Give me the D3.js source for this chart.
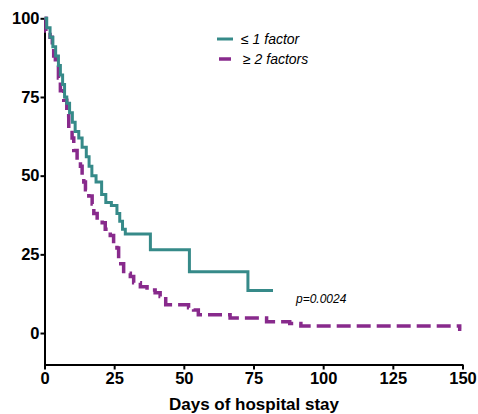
<!DOCTYPE html>
<html>
<head>
<meta charset="utf-8">
<script src="https://cdn.jsdelivr.net/npm/d3@7"></script>
<style>
  body { margin: 0; background: #fff; }
  svg { display: block; font-family: "Liberation Sans", Arial, sans-serif; }
  .axis path, .axis line { stroke: #000; stroke-width: 2; }
  .axis text { font-size: 16.5px; font-weight: bold; fill: #000; }
</style>
</head>
<body>
<svg id="chart" width="478" height="414"></svg>
<script>
// Kaplan-Meier steps (day, % still in hospital)
let lowDays = [0, 0.8, 2, 3, 4, 5, 5.7, 6.5, 7.2, 8, 9, 10, 11, 12.3, 13.5, 15, 16, 17, 18.5, 20.5, 22, 24, 26, 27, 28, 29, 38, 52, 73, 82]
let lowPct  = [100, 97, 94, 91, 88, 85, 82, 79, 75, 73, 70, 67, 64, 62, 59, 56, 53, 50, 48, 44, 41.5, 40.5, 38, 35.5, 33, 31.5, 26.5, 19.5, 13.5, 13.5]

let highDays = [0, 0.5, 2, 2.8, 3.3, 3.9, 5, 5.7, 6.9, 8, 8.7, 9.9, 10.5, 11.7, 12.9, 13.5, 14.1, 14.7, 15.9, 17.1, 17.7, 18.9, 20.7, 21.8, 23.6, 24.8, 26, 26.6, 28.4, 30.8, 32, 34.4, 36.8, 39.7, 41.5, 43.5, 51.7, 53.5, 55.2, 66.6, 79.7, 88, 92, 149, 149.6]
let highPct  = [100, 96, 94, 91, 88, 85, 81, 77, 74, 69, 65, 62, 58, 55, 53, 50, 48, 45.5, 43.5, 41, 38, 36, 35, 33, 31, 28.5, 27, 22, 19, 18, 16, 14.7, 13.7, 12.8, 11.6, 9, 8, 7.3, 5.8, 4.8, 3.6, 3, 2.2, 1.2, 1.2]

let seriesNames = ['≤ 1 factor', '≥ 2 factors']
let xTicks = [0, 25, 50, 75, 100, 125, 150]
let yTicks = [0, 25, 50, 75, 100]
let pText = 'p=0.0024'

const teal = '#368a89'
const purple = '#882a8c'

var svg = d3.select('#chart')

var x = d3.scaleLinear().domain([0, 150]).range([44.5, 462.5])
var y = d3.scaleLinear().domain([-10, 100]).range([364.5, 18.3])

svg.append('g')
  .attr('class', 'axis')
  .attr('transform', 'translate(44.5,0)')
  .call(d3.axisLeft(y).tickValues(yTicks).tickSize(4).tickSizeOuter(0).tickPadding(1))

svg.append('g')
  .attr('class', 'axis')
  .attr('transform', 'translate(0,364.5)')
  .call(d3.axisBottom(x).tickValues(xTicks).tickSize(5).tickSizeOuter(0).tickPadding(3))

svg.append('text')
  .attr('x', 254)
  .attr('y', 410)
  .attr('text-anchor', 'middle')
  .style('font-size', '17px')
  .style('font-weight', 'bold')
  .text('Days of hospital stay')

let stepLine = d3.line()
  .x(d => x(d[0]))
  .y(d => y(d[1]))
  .curve(d3.curveStepAfter)

svg.append('path')
  .datum(highDays.map((d, i) => [d, highPct[i]]))
  .attr('d', stepLine)
  .attr('fill', 'none')
  .attr('stroke', purple)
  .attr('stroke-width', 3.5)
  .attr('stroke-dasharray', '14,6')

svg.append('path')
  .datum(lowDays.map((d, i) => [d, lowPct[i]]))
  .attr('d', stepLine)
  .attr('fill', 'none')
  .attr('stroke', teal)
  .attr('stroke-width', 3)

// legend
let legend = svg.append('g')
legend.append('line')
  .attr('x1', 217).attr('x2', 233).attr('y1', 39).attr('y2', 39)
  .attr('stroke', teal).attr('stroke-width', 3)
legend.append('line')
  .attr('x1', 219).attr('x2', 231).attr('y1', 59).attr('y2', 59)
  .attr('stroke', purple).attr('stroke-width', 3.5)
legend.append('text')
  .attr('x', 241).attr('y', 44)
  .style('font-size', '14px').style('font-style', 'italic')
  .text(seriesNames[0])
legend.append('text')
  .attr('x', 243).attr('y', 64)
  .style('font-size', '14px').style('font-style', 'italic')
  .text(seriesNames[1])

svg.append('text')
  .attr('x', 296).attr('y', 303)
  .style('font-size', '12px').style('font-style', 'italic')
  .text(pText)
</script>
</body>
</html>
